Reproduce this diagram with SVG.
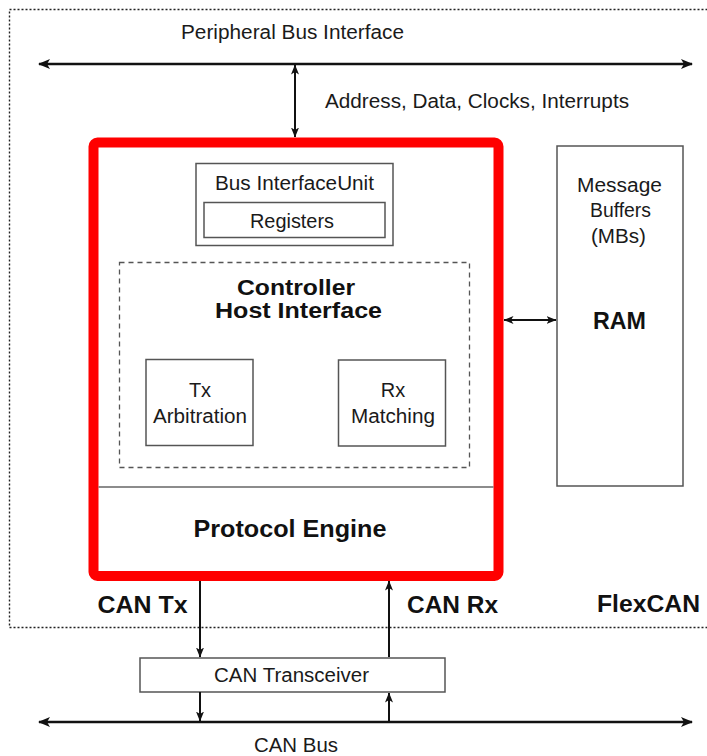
<svg xmlns="http://www.w3.org/2000/svg" width="707" height="756" viewBox="0 0 707 756">
  <defs>
    <marker id="arrow" viewBox="0 0 12 10" refX="11" refY="5" markerWidth="12" markerHeight="10" markerUnits="userSpaceOnUse" orient="auto-start-reverse">
      <path d="M0,0 L12,5 L0,10 L3,5 Z" fill="#111"/>
    </marker>
    <marker id="arrow-sm" viewBox="0 0 10 8" refX="9.5" refY="4" markerWidth="10" markerHeight="8" markerUnits="userSpaceOnUse" orient="auto-start-reverse">
      <path d="M0,0 L10,4 L0,8 L2.5,4 Z" fill="#111"/>
    </marker>
    <style>
      .txt { font-family: "Liberation Sans", Arial, Helvetica, sans-serif; font-size: 20px; fill: #1a1a1a; text-anchor: middle; }
      .bold { font-family: "Liberation Sans", Arial, Helvetica, sans-serif; font-size: 24px; font-weight: bold; fill: #111; text-anchor: middle; }
      .chi { font-size: 22px; }
      .box { fill: #fff; stroke: #555; stroke-width: 1.5; }
      .bus { stroke: #111; stroke-width: 2.5; fill: none; }
      .link { stroke: #111; stroke-width: 2; fill: none; }
    </style>
  </defs>

  <rect width="707" height="756" fill="#fff"/>

  <!-- FlexCAN module boundary (dotted, runs off the right edge) -->
  <g id="flexcan">
    <rect x="9.5" y="9.5" width="720" height="618" fill="none" stroke="#222" stroke-width="1.4" stroke-dasharray="2,2"/>
    <text class="bold" x="648.5" y="612" textLength="103" lengthAdjust="spacingAndGlyphs">FlexCAN</text>
  </g>

  <!-- Bus labels -->
  <g id="peripheral-bus">
    <text class="txt" x="292.5" y="39" textLength="223" lengthAdjust="spacingAndGlyphs">Peripheral Bus Interface</text>
    <text class="txt" x="477" y="108" textLength="304" lengthAdjust="spacingAndGlyphs">Address, Data, Clocks, Interrupts</text>
  </g>

  <!-- Main controller block -->
  <g id="controller">
    <rect x="93.5" y="142.5" width="405" height="433.5" rx="4" fill="#fff" stroke="#ff0000" stroke-width="10"/>
    <line x1="98.5" y1="487" x2="493.5" y2="487" stroke="#666" stroke-width="1.5"/>
  </g>

  <g id="bus-interface-unit">
    <rect class="box" x="196" y="163.5" width="197" height="82"/>
    <text class="txt" x="294.5" y="190" textLength="159" lengthAdjust="spacingAndGlyphs">Bus InterfaceUnit</text>
  </g>

  <g id="registers">
    <rect class="box" x="204" y="202.5" width="181" height="35"/>
    <text class="txt" x="292" y="228" textLength="84" lengthAdjust="spacingAndGlyphs">Registers</text>
  </g>

  <g id="host-interface">
    <rect x="119.5" y="262.5" width="350" height="205" fill="none" stroke="#555" stroke-width="1.3" stroke-dasharray="5,4"/>
    <text class="bold chi" x="296" y="295" textLength="118" lengthAdjust="spacingAndGlyphs">Controller</text>
    <text class="bold chi" x="298.5" y="318" textLength="167" lengthAdjust="spacingAndGlyphs">Host Interface</text>
  </g>

  <g id="tx-arbitration">
    <rect class="box" x="146" y="359.5" width="107" height="86"/>
    <text class="txt" x="200" y="397">Tx</text>
    <text class="txt" x="200" y="423" textLength="94" lengthAdjust="spacingAndGlyphs">Arbitration</text>
  </g>

  <g id="rx-matching">
    <rect class="box" x="338.5" y="360" width="107" height="86"/>
    <text class="txt" x="393" y="397">Rx</text>
    <text class="txt" x="393" y="423" textLength="84" lengthAdjust="spacingAndGlyphs">Matching</text>
  </g>

  <g id="protocol-engine">
    <text class="bold" x="290" y="537" textLength="193" lengthAdjust="spacingAndGlyphs">Protocol Engine</text>
  </g>

  <g id="ram">
    <rect class="box" x="557" y="146" width="126" height="340"/>
    <text class="txt" x="619.5" y="192" textLength="85" lengthAdjust="spacingAndGlyphs">Message</text>
    <text class="txt" x="620.5" y="217" textLength="61" lengthAdjust="spacingAndGlyphs">Buffers</text>
    <text class="txt" x="618.5" y="243" textLength="55" lengthAdjust="spacingAndGlyphs">(MBs)</text>
    <text class="bold" x="619.5" y="329" textLength="53" lengthAdjust="spacingAndGlyphs">RAM</text>
  </g>

  <g id="can-transceiver">
    <rect class="box" x="140" y="658" width="305" height="34"/>
    <text class="txt" x="291.5" y="682" textLength="155" lengthAdjust="spacingAndGlyphs">CAN Transceiver</text>
  </g>

  <g id="can-bus">
    <text class="txt" x="296" y="752" textLength="84" lengthAdjust="spacingAndGlyphs">CAN Bus</text>
  </g>

  <g id="signal-labels">
    <text class="bold" x="142.5" y="613" textLength="90" lengthAdjust="spacingAndGlyphs">CAN Tx</text>
    <text class="bold" x="452.5" y="613" textLength="91" lengthAdjust="spacingAndGlyphs">CAN Rx</text>
  </g>

  <!-- Connectors -->
  <g id="connectors">
    <line class="bus" x1="39" y1="64" x2="692" y2="64" marker-start="url(#arrow)" marker-end="url(#arrow)"/>
    <line class="link" x1="295" y1="65" x2="295" y2="137" marker-start="url(#arrow-sm)" marker-end="url(#arrow-sm)"/>
    <line class="link" x1="504" y1="320" x2="556" y2="320" marker-start="url(#arrow-sm)" marker-end="url(#arrow-sm)"/>
    <line class="link" x1="200" y1="581" x2="200" y2="657" marker-end="url(#arrow-sm)"/>
    <line class="link" x1="389" y1="657" x2="389" y2="581" marker-end="url(#arrow-sm)"/>
    <line class="link" x1="200" y1="692" x2="200" y2="721" marker-end="url(#arrow-sm)"/>
    <line class="link" x1="389" y1="722" x2="389" y2="693" marker-end="url(#arrow-sm)"/>
    <line class="bus" x1="39" y1="722" x2="692" y2="722" marker-start="url(#arrow)" marker-end="url(#arrow)"/>
  </g>
</svg>
